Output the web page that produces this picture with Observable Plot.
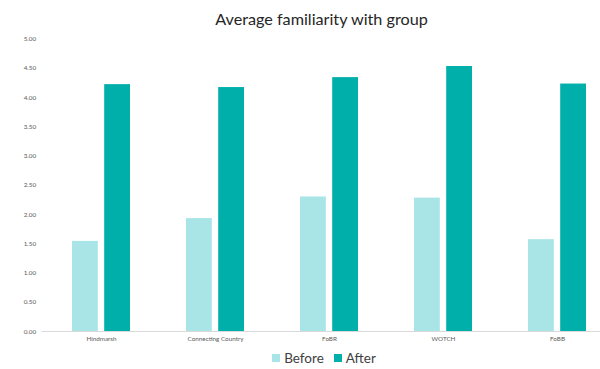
<!DOCTYPE html>
<html>
<head>
<meta charset="utf-8">
<script src="https://cdn.jsdelivr.net/npm/d3@7"></script>
<script src="https://cdn.jsdelivr.net/npm/@observablehq/plot@0.6"></script>
<style>
  html, body { margin: 0; padding: 0; background: #fff; }
  body { width: 600px; height: 369px; overflow: hidden; font-family: Lato, "Open Sans", sans-serif; }
  #title { width: 600px; box-sizing: border-box; padding-left: 43px; height: 30px; line-height: 38px; text-align: center; font-size: 16.2px; color: #262626; }
  #chart { height: 316px; width: 616px; }
  #chart svg { max-width: none !important; height: 316px !important; display: block; }
  #legend { width: 600px; box-sizing: border-box; padding-left: 48px; height: 23px; display: flex; justify-content: center; align-items: center; gap: 10px; font-size: 13.5px; color: #404040; }
  .sw { display: inline-block; width: 8px; height: 8px; margin-right: 4px; vertical-align: middle; }
  .item { display: flex; align-items: center; }
</style>
</head>
<body>
<div id="title">Average familiarity with group</div>
<div id="chart"></div>
<div id="legend"></div>
<script>
const categories = ["Hindmarsh", "Connecting Country", "FoBR", "WOTCH", "FoBB"];
const before = [1.54, 1.93, 2.30, 2.28, 1.57];
const after = [4.22, 4.17, 4.34, 4.53, 4.23];
const seriesNames = ["Before", "After"];
const seriesColors = ["#a9e5e6", "#00afaa"];
const yTicks = [0, 0.5, 1, 1.5, 2, 2.5, 3, 3.5, 4, 4.5, 5];

const beforeData = categories.map((c, i) => ({category: c, value: before[i]}));
const afterData = categories.map((c, i) => ({category: c, value: after[i]}));

const chart = Plot.plot({
  width: 616,
  height: 316,
  marginLeft: 41.6,
  marginRight: 0,
  marginTop: 8.5,
  marginBottom: 15,
  style: {fontFamily: "Lato, 'Open Sans', sans-serif", fontSize: "6.3px", color: "#595959", background: "transparent"},
  x: {domain: categories, paddingInner: 0.495, paddingOuter: 0.2475, label: null, tickSize: 0, tickPadding: 5},
  y: {domain: [0, 5], ticks: yTicks, tickFormat: d3.format(".2f"), label: null, tickSize: 0, tickPadding: 6},
  marks: [
    Plot.barY(beforeData, {x: "category", y: "value", fill: seriesColors[0], insetRight: 32.2}),
    Plot.barY(afterData, {x: "category", y: "value", fill: seriesColors[1], insetLeft: 32.2}),
    Plot.ruleY([0], {stroke: "#d9d9d9", strokeWidth: 1})
  ]
});
document.getElementById("chart").appendChild(chart);

const legend = document.getElementById("legend");
seriesNames.forEach((name, i) => {
  const item = document.createElement("span");
  item.className = "item";
  const sw = document.createElement("span");
  sw.className = "sw";
  sw.style.background = seriesColors[i];
  item.appendChild(sw);
  item.appendChild(document.createTextNode(name));
  legend.appendChild(item);
});
</script>
</body>
</html>
